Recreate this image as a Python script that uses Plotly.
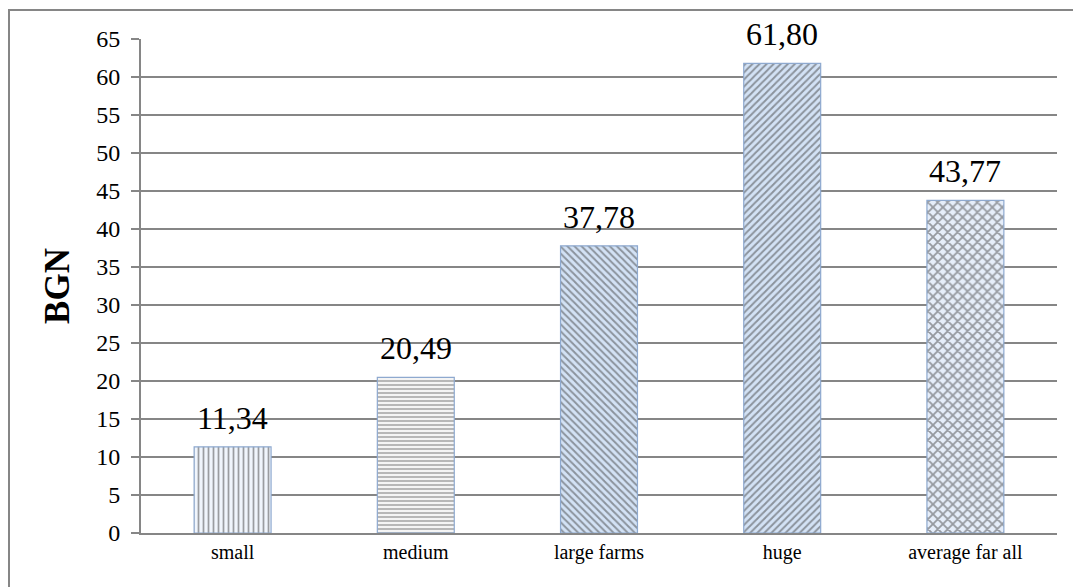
import plotly.graph_objects as go

categories = ["small", "medium", "large farms", "huge", "average far all"]
values = [11.34, 20.49, 37.78, 61.80, 43.77]
labels = ["11,34", "20,49", "37,78", "61,80", "43,77"]
y_ticks = list(range(0, 70, 5))

pattern_shapes = ["|", "-", "\\", "/", "x"]
pattern_fg = ["#9fc0e8", "#6a6a6a", "#93b5e0", "#93b5e0", "#4d86d4"]
bar_fill = ["#f0f5fc", "#f4f4f4", "#d3e2f5", "#d3e2f5", "#e6eefa"]
pattern_size = [5, 4, 5, 5, 7]
pattern_sol = [0.35, 0.35, 0.4, 0.4, 0.45]

fig = go.Figure()
fig.add_trace(go.Bar(
    x=categories, y=values,
    marker=dict(
        color=bar_fill,
        line=dict(color="#8ea9cf", width=1.2),
        pattern=dict(shape=pattern_shapes, fgcolor=pattern_fg,
                     size=pattern_size, solidity=pattern_sol, fillmode="overlay"),
    ),
    width=0.42,
))

for c, v, t in zip(categories, values, labels):
    fig.add_annotation(x=c, y=v, text=t, showarrow=False, yanchor="bottom", yshift=9,
                       font=dict(family="Liberation Serif", size=32, color="#000000"))

fig.update_layout(
    width=1073, height=587,
    margin=dict(l=141, r=16, t=39, b=54),
    paper_bgcolor="white", plot_bgcolor="white",
    showlegend=False,
    font=dict(family="Liberation Serif", color="#000000"),
)
fig.update_xaxes(
    showline=True, linecolor="#868686", linewidth=2,
    ticks="", tickfont=dict(size=20, family="Liberation Serif"),
    showgrid=False,
)
fig.update_yaxes(
    range=[0, 65], tickvals=y_ticks,
    showline=True, linecolor="#868686", linewidth=2,
    ticks="outside", ticklen=8, tickcolor="#868686", tickwidth=2,
    ticklabelstandoff=6,
    showgrid=True, gridcolor="#868686", gridwidth=2,
    tickfont=dict(size=24, family="Liberation Serif"),
    title=dict(text="<b>BGN</b>", font=dict(size=35, family="Liberation Serif"), standoff=16),
    zeroline=False,
)
fig.add_shape(type="rect", xref="paper", yref="paper",
              x0=(9 - 141) / 916, x1=(1090 - 141) / 916,
              y0=(533 - 620) / 494, y1=(533 - 10) / 494,
              line=dict(color="#868686", width=2), layer="below")

fig.write_html("out.html")
